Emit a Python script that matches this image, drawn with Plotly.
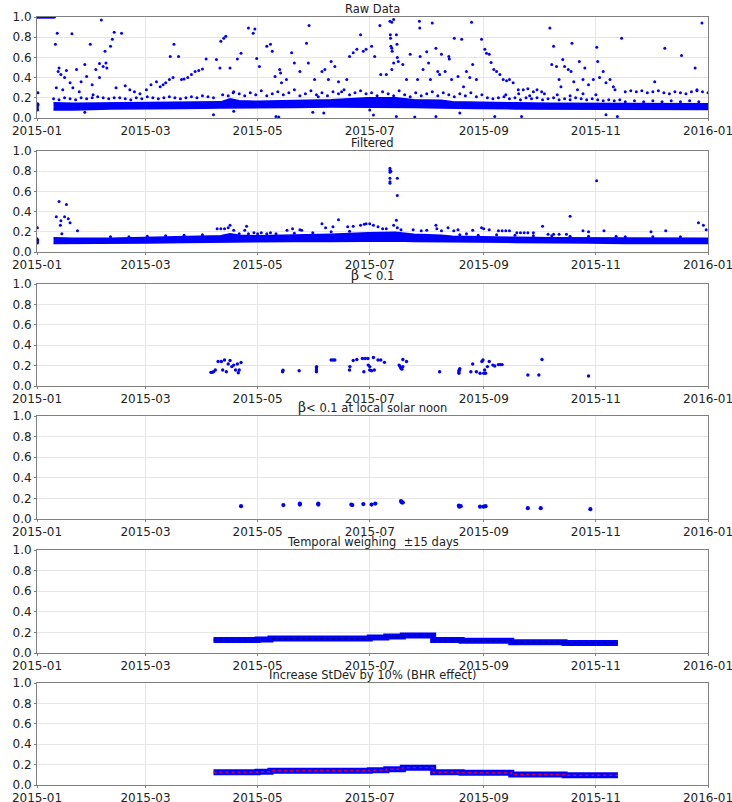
import pandas as pd
import plotly.graph_objects as go

# ---------------- data (day of year 2015 : value) ----------------
BASE = "2015-01-01"
X_TICKS = ["2015-01-01", "2015-03-01", "2015-05-01", "2015-07-01", "2015-09-01", "2015-11-01", "2016-01-01"]
X_TICK_LABELS = ["2015-01", "2015-03", "2015-05", "2015-07", "2015-09", "2015-11", "2016-01"]
Y_TICKS = [0.0, 0.2, 0.4, 0.6, 0.8, 1.0]

TITLES = ["Raw Data", "Filtered", "β < 0.1", "β< 0.1 at local solar noon",
          "Temporal weighing  ±15 days", "Increase StDev by 10% (BHR effect)"]

# dense core band of the raw / filtered data (lower and upper envelope)
band_days = [9, 20, 40, 60, 80, 100, 105, 110, 120, 140, 160, 180, 195, 205, 220, 226, 240, 260, 280, 300, 320, 340, 365]
raw_lo = [.08, .08, .09, .09, .095, .10, .10, .10, .10, .105, .11, .11, .11, .105, .10, .10, .095, .09, .09, .09, .085, .085, .085]
raw_hi = [.15, .145, .145, .15, .155, .16, .19, .17, .165, .17, .18, .20, .20, .18, .175, .16, .155, .15, .145, .145, .14, .14, .14]
filt_lo = [.085, .085, .09, .09, .095, .10, .10, .10, .10, .105, .105, .11, .11, .105, .10, .10, .10, .095, .095, .09, .085, .085, .085]
filt_hi = [.14, .135, .135, .14, .15, .16, .18, .165, .16, .165, .175, .19, .195, .175, .165, .155, .15, .145, .14, .14, .135, .135, .135]

raw_points = """
0:1 0.5:1 1:1 1.5:1 2:1 2.5:1 3:1 3.5:1 4:1 4.5:1 5:1 5.5:1 6:1 6.5:1 7:1 7.5:1 8:1 8.5:1 9:1 9.5:1
0:.10 0.2:.12 0.3:.08 0.5:.25 0.1:.11 0.4:.14 0.2:.09 0.6:.13
10:.73 11:.84 19:.835 35:.97 29:.73 37:.66 40:.71 41:.78 42:.85 46:.84 37.5:.545 34:.54 36:.51 38:.495
34:.40 32:.48 26:.53 21.5:.48 12:.495 11.5:.46 13:.43 16:.47 15:.40 18:.35 24:.36 27:.41 30:.33 10.5:.30
14:.28 19.5:.30 23:.26 30.5:.23 43:.30 48:.32 50.5:.28 53:.26 56:.24 59.5:.28 62:.33 65:.36 67:.31 68.6:.33
70:.35 72:.38 74:.40 72.5:.61 74.5:.73 77:.61 78.6:.38 80:.386 82:.40 84:.43 86:.46 88:.47 90:.485 92:.585
97.6:.58 99.5:.495 100:.76 101.6:.79 102.7:.81 105:.495 106.7:.25 109:.585 111:.64 115:.89 117.6:.84
118.5:.88 119.5:.59 121:.51 125:.71 127:.73 128:.66 129.5:.41 132:.48 132.5:.445 133:.35 135.7:.38
138.5:.645 140:.545 143:.46 148:.915 146.6:.74 147.6:.545 151:.38 155:.46 156.6:.48 158.5:.38 160:.56
162:.51 164:.36 170:.61 172:.645 174:.68 176:.825 177.5:.66 168.5:.38 165.7:.26 153:.21
130:.015 131.5:.01 150:.056 156:.05 96:.033 107:.066 26:.056
179:.68 186.5:.915 192:.957 193:.947 194:.975 192.2:.825 192.3:.79 192.5:.71 193:.69 193.2:.66
195.5:.825 195.8:.73 196:.60 196.5:.56 194:.545 193:.48 190:.43 187:.43 183.7:.61 182:.71 199:.53
201:.38 203:.63 207:.38 208:.957 208.2:.89 208.4:.61 210:.48 212:.655 213:.545 215:.94 214:.38 217:.69
218:.46 219:.43 220:.63 222:.46 224:.61 224.3:.585 225.5:.38 227:.79 231:.78 229:.41 232:.31 233.6:.46
235.4:.40 236.4:.947 237:.53 239:.38 241.8:.78 243.6:.68 244.5:.64 246:.63 247:.55 248.5:.48 250:.46
251.8:.43 253.6:.38 255.4:.37 257:.38 259:.35 261.8:.28 264.5:.28 267:.29 270:.26 272:.28 274.5:.26
279:.89 280:.53 281:.71 282.6:.51 284:.38 285:.31 286:.58 287:.51 289:.48 291:.74 290.5:.46 292:.36
294:.28 295:.56 297:.38 298:.495 300:.33 302.6:.38 304.5:.70 305:.56 306:.40 308:.46 309.5:.35
311.7:.38 313.5:.31 314.4:.28 318:.79 309.5:.033 315.7:.016 336:.36 341.5:.69 350.6:.62 358:.495
361.7:.94 359:.28 181:.08 183:.03 195.5:.016 205.5:.01 217:.016 249:.016 263.6:.016 230:.05
9:.19 12:.18 15:.20 18:.19 21:.18 24:.20 27:.19 30:.20 33:.21 36:.20 39:.19 42:.20 45:.20 48:.19
51:.18 54:.20 57:.19 60:.21 63:.20 66:.19 69:.20 72:.21 75:.20 78:.19 81:.20 84:.21 87:.20 90:.22
93:.21 96:.20 101:.23 104:.22 107:.26 110:.24 113:.22 116:.25 119:.23 122:.27 125:.22 128:.24
131:.26 134:.23 137:.25 140:.28 143:.22 146:.24 149:.27 152:.23 155:.25 158:.22 161:.26 164:.24
167:.28 170:.23 173:.25 176:.27 179:.24 182:.25 185:.22 188:.26 191:.24 194:.22 197:.27 200:.23
203:.21 206:.25 209:.22 212:.24 215:.26 218:.22 221:.25 224:.23 227:.21 230:.24 233:.22 236:.25
239:.21 242:.23 245:.20 248:.19 251:.20 254:.21 257:.19 260:.20 263:.18 266:.20 269:.19 272:.20
275:.18 278:.19 281:.20 284:.18 287:.19 290:.18 293:.20 296:.19 299:.18 302:.19 305:.18 308:.17
311:.18 314:.17 317:.18 320:.26 323:.27 326:.26 329:.27 332:.25 335:.26 338:.27 341:.25 344:.24
347:.26 350:.25 353:.24 356:.26 359:.27 362:.26 365:.25 320:.16 325:.17 330:.16 335:.17 340:.16
345:.17 350:.16 355:.17 360:.16 255:.23 262:.24 268:.22 276:.24 283:.23 290:.22 297:.24 304:.23
"""

filt_points = """
0:.13 0.1:.11 0.2:.09 0.3:.10 0.4:.12 0.2:.24
10.5:.35 12:.50 13:.31 12.7:.265 15:.35 16:.47 17:.33 18:.29 22:.21 13.5:.18
98:.23 100:.23 102:.23 104:.24 105:.265 107:.215 114:.255 113:.215 110:.18 115:.18 120:.18 125:.18
118:.19 122:.19 127:.19 136:.215 139:.23 143:.22 144:.215 155:.28 157:.24 161:.25 164:.32 169:.25
172:.255 176:.265 178:.275 179:.28 181:.28 183:.265 185.5:.25 188:.23
192:.83 192:.81 192:.79 192:.73 192:.695 192:.68 192.5:.80 196:.73 196:.56 195.5:.315
190:.23 194:.265 196:.24 198:.22 204.6:.22 209:.21 212:.215 217:.265 217.5:.23 220:.21 223.6:.24
226.7:.21 229:.22 233.6:.18 237:.215 241.8:.24 243:.23 246:.22 251:.21 253:.21 255:.21 257:.21
261:.19 263:.19 265:.19 267:.19 270:.19 275:.255 278:.175 281:.175 284:.175 288:.175 290:.355
297:.21 300:.20 304.4:.705 308.4:.21 315:.155 334:.20 342:.21 359.8:.29 362.5:.265 364:.22
40:.15 50:.15 60:.155 70:.16 80:.165 90:.17 130:.18 140:.185 150:.19 160:.20 170:.205
230:.17 240:.165 250:.17 260:.165 270:.16 280:.16 290:.155 300:.155 320:.15 335:.15 350:.15
"""

beta_points = """
94.6:.134 95.2:.134 96:.14 97:.157 98.5:.24 100.3:.24 102:.255 101:.157 103:.14 104:.215 105:.25
106:.19 107:.205 108:.157 109:.215 109.5:.13 110:.157 111:.23
133.6:.14 133.8:.155 142.6:.15 152:.14 152:.16 152:.18 152.1:.19 160:.255 161:.255 162:.255
170:.157 170.2:.19 172:.25 174:.26 177:.27 178.5:.27 177.8:.14
180:.27 180.2:.205 181:.19 181:.157 182:.15 183:.28 183.5:.157 185.5:.255 187:.255 189:.232
197:.205 197.5:.19 198:.175 198.5:.165 199:.19 199:.26 201:.24 219:.14 229.5:.125 229.5:.14
229.6:.155 230:.17 236:.14 237:.215 239:.14 241:.125 242:.24 242.6:.255 243:.125 243.5:.157
244:.125 245:.19 246:.24 248:.205 249:.196 251:.21 252:.21 253:.21 267:.108 273:.108 274.7:.26
300:.098
"""

noon_points = """
111:.125 134:.135 143:.14 143:.15 153:.14 153:.15 171:.14 171.5:.135 177.5:.145 182:.14 184:.15
198:.175 198.3:.165 198.6:.16 199:.16 229.5:.13 229.7:.12 230.5:.125 241:.12 243:.12 244:.125
267:.105 274:.105 301:.095
"""

# step levels of the temporally weighted series (day, value)
tw_days = [96, 120, 127, 181, 190, 199, 213, 215.5, 231, 258, 287, 316]
tw_vals = [0.125, 0.13, 0.14, 0.15, 0.16, 0.17, 0.17, 0.125, 0.12, 0.105, 0.097, 0.097]
sd_days = [96, 120, 127, 181, 190, 199, 213, 215.5, 231, 258, 287, 316]
sd_vals = [0.125, 0.13, 0.14, 0.145, 0.155, 0.17, 0.17, 0.125, 0.12, 0.103, 0.095, 0.095]


def parse(s):
    d, v = [], []
    for tok in s.split():
        a, b = tok.split(":")
        d.append(float(a))
        v.append(float(b))
    return d, v


def to_dates(days):
    return pd.Timestamp(BASE) + pd.to_timedelta(days, unit="D")


BLUE = "#0000ff"
fig = go.Figure()

# ---------------- layout geometry ----------------
W, H = 732, 802
x0, x1 = 37 / W, 708 / W
panels_px = [(17, 118), (151, 252), (284, 386), (416, 519), (550, 653), (683, 785)]


def ax(i):
    return ("x" if i == 1 else f"x{i}"), ("y" if i == 1 else f"y{i}")


def band(i, lo, hi):
    xa, ya = ax(i)
    xs = list(to_dates(band_days)) + list(to_dates(band_days[::-1]))
    ys = list(lo) + list(hi[::-1])
    fig.add_trace(go.Scatter(x=xs, y=ys, fill="toself", fillcolor=BLUE, mode="lines",
                             line=dict(color=BLUE, width=1.5), xaxis=xa, yaxis=ya,
                             hoverinfo="skip", showlegend=False))


def dots(i, s, size):
    xa, ya = ax(i)
    d, v = parse(s)
    fig.add_trace(go.Scatter(x=to_dates(d), y=v, mode="markers",
                             marker=dict(color=BLUE, size=size, line=dict(width=0)),
                             xaxis=xa, yaxis=ya, showlegend=False))


band(1, raw_lo, raw_hi)
dots(1, raw_points, 3.0)
band(2, filt_lo, filt_hi)
dots(2, filt_points, 3.0)
dots(3, beta_points, 3.4)
dots(4, noon_points, 4.2)

for i, (dd, vv, inner) in [(5, (tw_days, tw_vals, "#000080")), (6, (sd_days, sd_vals, "#d0004a"))]:
    xa, ya = ax(i)
    fig.add_trace(go.Scatter(x=to_dates(dd), y=vv, mode="lines", line=dict(color=BLUE, width=6, shape="hv"),
                             xaxis=xa, yaxis=ya, showlegend=False))
    fig.add_trace(go.Scatter(x=to_dates(dd), y=vv, mode="lines",
                             line=dict(color=inner, width=1.4, dash="dot", shape="hv"),
                             xaxis=xa, yaxis=ya, showlegend=False))

layout = dict(width=W, height=H, margin=dict(l=0, r=0, t=0, b=0, autoexpand=False),
              paper_bgcolor="white", plot_bgcolor="white",
              font=dict(family="DejaVu Sans", size=12, color="#222"))
annotations = []
for k, (top, bot) in enumerate(panels_px, start=1):
    key = "" if k == 1 else str(k)
    dom = [1 - bot / H, 1 - top / H]
    common = dict(showgrid=True, gridcolor="#e6e6e6", gridwidth=1,
                  showline=True, linecolor="#808080", linewidth=1, mirror=True,
                  ticks="outside", ticklen=2, tickcolor="#808080",
                  tickfont=dict(size=12, color="#222"), zeroline=False, automargin=False,
                  ticklabeloverflow="allow")
    layout["xaxis" + key] = dict(domain=[x0, x1], anchor="y" + key, type="date",
                                 range=["2015-01-01", "2016-01-01"],
                                 tickvals=X_TICKS, ticktext=X_TICK_LABELS, **common)
    layout["yaxis" + key] = dict(domain=dom, anchor="x" + key, range=[0, 1],
                                 tickvals=Y_TICKS, tickformat=".1f", **common)
    title = TITLES[k - 1].replace("β", '<span style="font-family:DejaVu Serif;font-size:14px">β</span>')
    annotations.append(dict(text=title, x=(x0 + x1) / 2, y=1 - top / H, xref="paper", yref="paper",
                            xanchor="center", yanchor="bottom", yshift=-1, showarrow=False,
                            font=dict(size=11.5, color="#222")))
layout["annotations"] = annotations
fig.update_layout(**layout)
# remove the default 8 px page margin so the figure fills the window exactly
fig.write_html("out.html", config={"displayModeBar": False},
               post_script="document.body.style.margin='0';")
